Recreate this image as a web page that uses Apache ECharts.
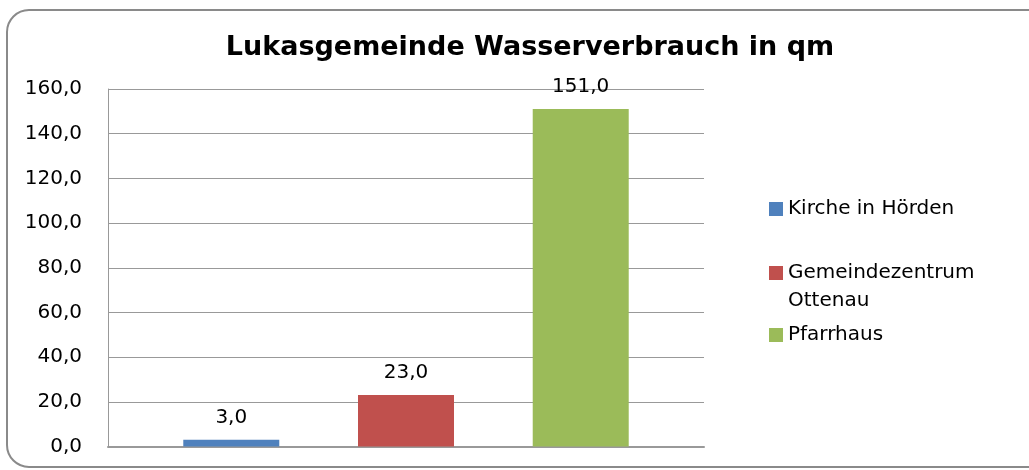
<!DOCTYPE html>
<html><head><meta charset="utf-8">
<script src="https://cdn.jsdelivr.net/npm/echarts@6/dist/echarts.min.js"></script>
<style>html,body{margin:0;padding:0;background:#fff}#c{width:1029px;height:470px}</style>
</head><body><div id="c"></div>
<script>
var titleText = 'Lukasgemeinde Wasserverbrauch in qm';
var categories = [''];
var seriesNames = ['Kirche in Hörden', 'Gemeindezentrum Ottenau', 'Pfarrhaus'];
var legendLabels = ['Kirche in Hörden', '\nGemeindezentrum\nOttenau', 'Pfarrhaus'];
var seriesValues = [[3.0], [23.0], [151.0]];
var seriesColors = ['#4F81BD', '#C0504D', '#9BBB59'];
var yTicks = {min: 0, max: 160, interval: 20};

var fmt = function (v) { return v.toFixed(1).replace('.', ','); };
var font = 'DejaVu Sans';
var legendTops = [195, 231, 321];

var chart = echarts.init(document.getElementById('c'));
chart.setOption({
  animation: false,
  title: {text: titleText, left: 525, top: 29, textAlign: 'center',
    textStyle: {fontFamily: font, fontSize: 27, fontWeight: 'bold', color: '#000'}},
  graphic: [{type: 'rect', shape: {x: 7, y: 10, width: 1060, height: 457, r: 22},
    style: {fill: 'none', stroke: '#8a8a8a', lineWidth: 2}, z: -1}],
  legend: seriesNames.map(function (n, i) {
    return {data: [n], left: 769, top: legendTops[i], orient: 'vertical', icon: 'rect',
      padding: 0, itemWidth: 14, itemHeight: 14, itemGap: 8,
      formatter: function () { return legendLabels[i]; },
      textStyle: {fontFamily: font, fontSize: 20, color: '#000', lineHeight: 28}};
  }),
  grid: {left: 108, right: 325, top: 89, bottom: 23.5, containLabel: false},
  xAxis: {type: 'category', data: categories,
    axisLine: {lineStyle: {color: '#999', width: 2}}, axisTick: {show: false}, axisLabel: {show: false}},
  yAxis: {type: 'value', min: yTicks.min, max: yTicks.max, interval: yTicks.interval,
    axisLine: {show: true, lineStyle: {color: '#999'}}, axisTick: {show: false},
    axisLabel: {formatter: fmt, fontFamily: font, fontSize: 20, color: '#000', margin: 26},
    splitLine: {lineStyle: {color: '#999', width: 1}}},
  series: seriesNames.map(function (n, i) {
    return {type: 'bar', name: n, data: seriesValues[i], barWidth: 96, barGap: '82%',
      itemStyle: {color: seriesColors[i]},
      label: {show: true, position: 'top', distance: 12, formatter: function (p) { return fmt(p.value); },
        fontFamily: font, fontSize: 20, color: '#000'}};
  })
});
</script></body></html>
